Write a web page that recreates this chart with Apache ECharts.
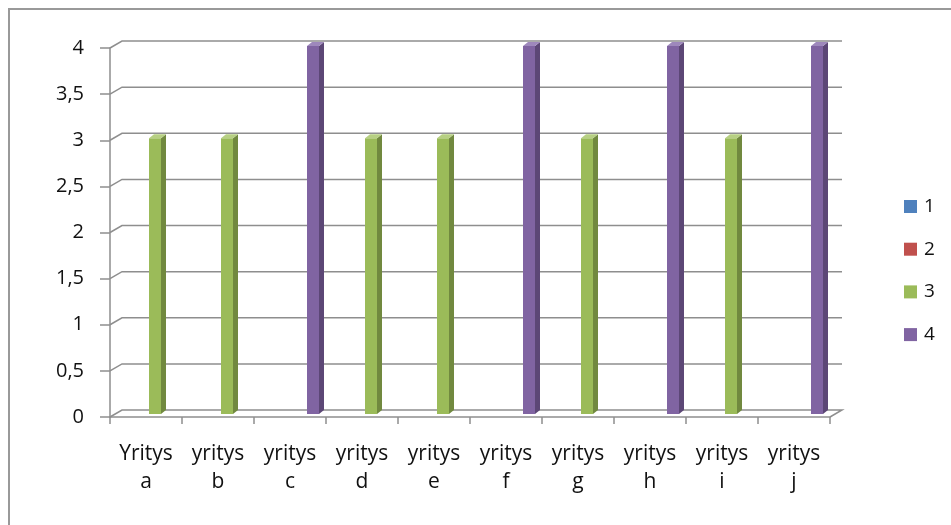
<!DOCTYPE html>
<html>
<head>
<meta charset="utf-8">
<script src="https://cdn.jsdelivr.net/npm/echarts@6/dist/echarts.min.js"></script>
<style>html,body{margin:0;padding:0;background:#fff}#c{width:951px;height:525px}</style>
</head>
<body>
<div id="c"></div>
<script>
var categories = ['Yritys\na','yritys\nb','yritys\nc','yritys\nd','yritys\ne','yritys\nf','yritys\ng','yritys\nh','yritys\ni','yritys\nj'];
var seriesNames = ['1','2','3','4'];
var series1 = [0,0,0,0,0,0,0,0,0,0];
var series2 = [0,0,0,0,0,0,0,0,0,0];
var series3 = [3,3,0,3,3,0,3,0,3,0];
var series4 = [0,0,4,0,0,4,0,4,0,4];
var yTicks = [0,0.5,1,1.5,2,2.5,3,3.5,4];

var palette = [
  {front:'#4F81BD', side:'#385D8A', top:'#7A9FD0'},
  {front:'#C0504D', side:'#8C3836', top:'#D47C7A'},
  {front:'#9BBB59', side:'#71893F', top:'#B7D083'},
  {front:'#8064A2', side:'#5C4776', top:'#9E88BC'}
];
var allData = [series1, series2, series3, series4];
var FONT = 'Open Sans';
var TXT = '#111';
var gridColor = '#8e8e8e';

function barRender(sIdx){
  var col = palette[sIdx];
  return function(params, api){
    var v = api.value(1);
    if(!v) return null;
    var ci = api.value(0);
    var top = api.coord([ci, v]);
    var base = api.coord([ci, 0]);
    var w = 12, dx = 5, dy = -4;
    var x = top[0] + 3 + (sIdx - 2) * 14;
    var yT = top[1] - 2;
    var yB = base[1] - 3;
    return {type:'group', children:[
      {type:'rect', shape:{x:x, y:yT, width:w, height:yB-yT}, style:{fill:col.front}},
      {type:'polygon', shape:{points:[[x+w,yT],[x+w+dx,yT+dy],[x+w+dx,yB+dy],[x+w,yB]]}, style:{fill:col.side}},
      {type:'polygon', shape:{points:[[x,yT],[x+dx,yT+dy],[x+w+dx,yT+dy],[x+w,yT]]}, style:{fill:col.top}}
    ]};
  };
}

var series = [{
  type:'custom', name:'grid', silent:true, z:1,
  data: yTicks.map(function(v){return [0, v];}),
  renderItem:function(params, api){
    var cs = params.coordSys;
    var y = api.coord([0, api.value(1)])[1];
    var pts = [[cs.x, y],[cs.x+12, y-7],[cs.x+cs.width+12, y-7]];
    if(api.value(1) === 0) pts.push([cs.x+cs.width, y]);
    return {type:'polyline', shape:{points:pts}, style:{stroke:gridColor, lineWidth:1.5, fill:null}};
  }
}];
seriesNames.forEach(function(n, s){
  series.push({
    type:'custom', name:n, z:3,
    itemStyle:{color:palette[s].front},
    data: allData[s].map(function(v,i){return [i, v];}),
    renderItem: barRender(s)
  });
});

var chart = echarts.init(document.getElementById('c'));
chart.setOption({
  animation:false,
  backgroundColor:'#fff',
  grid:{left:110, right:121, top:48, bottom:108},
  legend:{
    orient:'vertical', left:899, top:192, itemWidth:13, itemHeight:13, itemGap:23.7,
    data: seriesNames.map(function(n){return {name:n, icon:'rect'};}),
    textStyle:{fontFamily:FONT, fontSize:19, color:TXT, padding:[0,0,0,2]}
  },
  xAxis:{
    type:'category', data:categories,
    axisLine:{lineStyle:{color:gridColor, width:1.5}},
    axisTick:{show:true, length:7, lineStyle:{color:gridColor, width:1.5}},
    axisLabel:{fontFamily:FONT, fontSize:21, color:TXT, lineHeight:28, margin:23, interval:0},
    splitLine:{show:false}
  },
  yAxis:{
    type:'value', min:0, max:4, interval:0.5,
    axisLine:{show:true, lineStyle:{color:gridColor, width:1.5}},
    axisTick:{show:true, length:10, lineStyle:{color:gridColor, width:1.5}},
    axisLabel:{fontFamily:FONT, fontSize:20, color:TXT, margin:26,
      formatter:function(v){return String(v).replace('.', ',');}},
    splitLine:{show:false}
  },
  graphic:[{type:'polyline', silent:true, shape:{points:[[9,525],[9,9],[951,9]]}, style:{stroke:'#999', lineWidth:2, fill:null}}],
  series:series
});
</script>
</body>
</html>
